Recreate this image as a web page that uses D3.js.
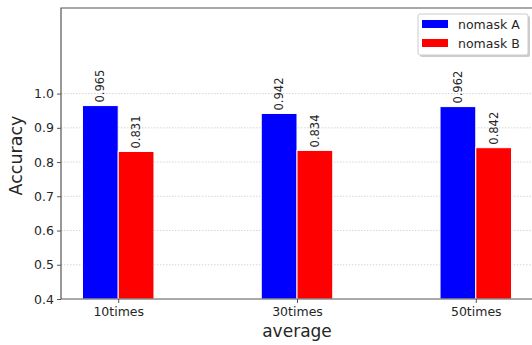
<!DOCTYPE html>
<html><head><meta charset="utf-8">
<script src="https://cdn.jsdelivr.net/npm/d3@7"></script>
<style>body{margin:0;background:#fff}svg{display:block}text{font-family:"DejaVu Sans",sans-serif}</style>
</head><body>
<svg id="c" width="532" height="345"></svg>
<script>
const categories = ["10times", "30times", "50times"];
const seriesNames = ["nomask A", "nomask B"];
const seriesA = [0.965, 0.942, 0.962];
const seriesB = [0.831, 0.834, 0.842];
const yTicks = [0.4, 0.5, 0.6, 0.7, 0.8, 0.9, 1.0];
const colors = ["#0000ff", "#ff0000"];

const svg = d3.select("#c");
const L = 61, R = 533, T = 8, B = 299;
const x = d3.scaleLinear().domain([-0.32, 2.32]).range([L, R]);
const y = d3.scaleLinear().domain([0.4, 1.25]).range([B, T]);
const bw = 0.2;

// grid
svg.append("g").selectAll("line").data(yTicks.slice(1)).join("line")
  .attr("x1", L).attr("x2", R).attr("y1", d => y(d)).attr("y2", d => y(d))
  .attr("stroke", "#c4c4c4").attr("stroke-width", 0.7).attr("stroke-dasharray", "1.5,1.5");

const series = [seriesA, seriesB];
series.forEach((vals, si) => {
  const off = si === 0 ? -bw : 0;
  const g = svg.append("g");
  g.selectAll("rect").data(vals).join("rect")
    .attr("x", (d, i) => x(i + off)).attr("width", x(bw) - x(0))
    .attr("y", d => y(d)).attr("height", d => y(0.4) - y(d))
    .attr("fill", colors[si]).attr("stroke", "#ffffff").attr("stroke-width", 1);
  g.selectAll("text").data(vals).join("text")
    .attr("transform", (d, i) => `translate(${x(i + off + bw / 2) + 4},${y(d) - 3}) rotate(-90)`)
    .attr("font-size", 11.5).attr("fill", "#262626").text(d => d.toFixed(3));
});

// spines
svg.append("path").attr("d", `M${L},${B}V${T}H${R}`).attr("fill", "none").attr("stroke", "#555").attr("stroke-width", 1.2);
svg.append("line").attr("x1", L).attr("x2", R).attr("y1", B).attr("y2", B).attr("stroke", "#555").attr("stroke-width", 1.2);

// y axis
const ya = svg.append("g").attr("transform", `translate(${L},0)`)
  .call(d3.axisLeft(y).tickValues(yTicks).tickFormat(d3.format(".1f")).tickSize(4).tickPadding(3));
ya.select(".domain").remove();
ya.selectAll("line").attr("stroke", "#555");
ya.selectAll("text").attr("font-size", 12.5).attr("fill", "#262626").style("font-family", "DejaVu Sans");

// x axis
const xa = svg.append("g").attr("transform", `translate(0,${B})`)
  .call(d3.axisBottom(x).tickValues([0, 1, 2]).tickFormat(i => categories[i]).tickSize(4).tickPadding(4));
xa.select(".domain").remove();
xa.selectAll("line").attr("stroke", "#555");
xa.selectAll("text").attr("font-size", 12.5).attr("fill", "#262626").style("font-family", "DejaVu Sans");

svg.append("text").attr("x", x(1)).attr("y", 337).attr("text-anchor", "middle")
  .attr("font-size", 17).attr("fill", "#262626").text("average");
svg.append("text").attr("transform", `translate(22,${(T + B) / 2 + 2}) rotate(-90)`).attr("text-anchor", "middle")
  .attr("font-size", 17.5).attr("fill", "#262626").text("Accuracy");

// legend
const lg = svg.append("g").attr("transform", "translate(418,14)");
lg.append("rect").attr("x", 2).attr("y", 2).attr("width", 110).attr("height", 41).attr("rx", 2).attr("fill", "#999").attr("opacity", 0.5);
lg.append("rect").attr("x", 0).attr("y", 0).attr("width", 110).attr("height", 41).attr("rx", 2).attr("fill", "#fff").attr("stroke", "#ccc");
seriesNames.forEach((n, i) => {
  lg.append("rect").attr("x", 4).attr("y", 6 + i * 19).attr("width", 26).attr("height", 8).attr("fill", colors[i]);
  lg.append("text").attr("x", 40).attr("y", 15 + i * 19).attr("font-size", 12.5).attr("fill", "#262626").text(n);
});
</script>
</body></html>
